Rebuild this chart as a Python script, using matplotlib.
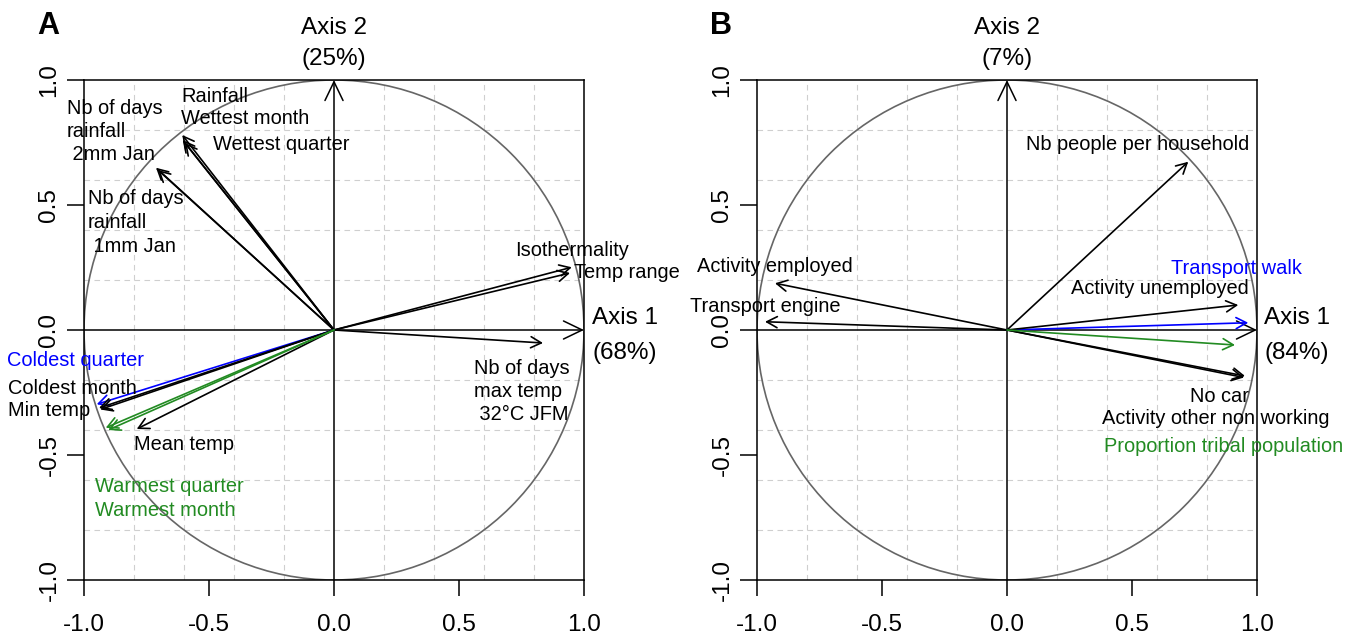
import numpy as np
import matplotlib.pyplot as plt
from matplotlib.patches import Circle

plt.rcParams['font.family'] = ['Liberation Sans', 'DejaVu Sans']
plt.rcParams['axes.unicode_minus'] = False

# panel A: climate variables (correlations with axis 1 / axis 2)
labels_a = ['Rainfall', 'Wettest month', 'Wettest quarter',
            'Nb of days\nrainfall\n 2mm Jan', 'Nb of days\nrainfall\n 1mm Jan',
            'Isothermality', 'Temp range', 'Nb of days\nmax temp\n 32°C JFM',
            'Coldest quarter', 'Coldest month', 'Min temp', 'Mean temp',
            'Warmest quarter', 'Warmest month']
axis1_a = [-0.607, -0.605, -0.596, -0.712, -0.704, 0.951, 0.944, 0.836,
           -0.949, -0.940, -0.935, -0.789, -0.913, -0.903]
axis2_a = [0.780, 0.760, 0.748, 0.649, 0.640, 0.251, 0.228, -0.052,
           -0.297, -0.312, -0.318, -0.396, -0.391, -0.400]
group_a = ['k', 'k', 'k', 'k', 'k', 'k', 'k', 'k', 'b', 'k', 'k', 'k', 'g', 'g']
pct_a = (68, 25)

# panel B: socio-economic variables
labels_b = ['Nb people per household', 'Activity employed', 'Transport engine',
            'Transport walk', 'Activity unemployed', 'No car',
            'Activity other non working', 'Proportion tribal population']
axis1_b = [0.725, -0.928, -0.968, 0.965, 0.925, 0.952, 0.948, 0.912]
axis2_b = [0.673, 0.187, 0.033, 0.029, 0.100, -0.184, -0.190, -0.060]
group_b = ['k', 'k', 'k', 'b', 'k', 'k', 'k', 'g']
pct_b = (84, 7)

# where the labels sit (data coords, left edge / first line centre)
pos_a = [(-0.612, 0.94), (-0.612, 0.852), (-0.484, 0.748),
         (-1.068, 0.896), (-0.984, 0.532),
         (0.724, 0.328), (0.96, 0.24), (0.56, -0.144),
         (-1.308, -0.112), (-1.304, -0.228), (-1.304, -0.316), (-0.80, -0.452),
         (-0.956, -0.616), (-0.956, -0.716)]
pos_b = [(0.076, 0.748), (-1.24, 0.26), (-1.27, 0.104),
         (0.656, 0.252), (0.256, 0.172), (0.734, -0.256),
         (0.38, -0.348), (0.388, -0.456)]

colmap = {'k': 'black', 'b': '#0000FF', 'g': '#228B22'}


def corr_circle(ax, x, y, labels, groups, pos, pct, letter, ax1_x):
    ax.set_xlim(-1, 1)
    ax.set_ylim(-1, 1)
    for v in [-0.8, -0.6, -0.4, -0.2, 0.2, 0.4, 0.6, 0.8]:
        ax.axvline(v, color='#cfcfcf', lw=0.8, ls=(0, (5, 4)), zorder=0)
        ax.axhline(v, color='#cfcfcf', lw=0.8, ls=(0, (5, 4)), zorder=0)
    ax.add_patch(Circle((0, 0), 1, fill=False, ec='#666666', lw=1.2, zorder=1))

    # main axes with open arrow heads
    ax.annotate('', xy=(1, 0), xytext=(-1, 0),
                arrowprops=dict(arrowstyle='->,head_length=1.35,head_width=0.65',
                                color='black', lw=1.1, shrinkA=0, shrinkB=0,
                                mutation_scale=10))
    ax.annotate('', xy=(0, 1), xytext=(0, -1),
                arrowprops=dict(arrowstyle='->,head_length=1.35,head_width=0.65',
                                color='black', lw=1.1, shrinkA=0, shrinkB=0,
                                mutation_scale=10))

    for xi, yi, g in zip(x, y, groups):
        ax.annotate('', xy=(xi, yi), xytext=(0, 0),
                    arrowprops=dict(arrowstyle='->,head_length=0.75,head_width=0.4',
                                    color=colmap[g], lw=1.2, shrinkA=0, shrinkB=0,
                                    mutation_scale=10))

    dy = 0.094
    for lab, (px, py), g in zip(labels, pos, groups):
        for i, line in enumerate(lab.split('\n')):
            ax.text(px, py - i * dy, line, color=colmap[g], fontsize=14.4,
                    ha='left', va='center_baseline', clip_on=False)

    ax.text(0, 1.22, 'Axis 2', fontsize=17.5, ha='center', va='center_baseline',
            clip_on=False)
    ax.text(0, 1.092, '(%d%%)' % pct[1], fontsize=17.5, ha='center',
            va='center_baseline', clip_on=False)
    ax.text(ax1_x, 0.056, 'Axis 1', fontsize=17.5, ha='left',
            va='center_baseline', clip_on=False)
    ax.text(ax1_x, -0.08, '(%d%%)' % pct[0], fontsize=17.5, ha='left',
            va='center_baseline', clip_on=False)
    ax.text(-1.186, 1.232, letter, fontsize=22, fontweight='bold', ha='left',
            va='center_baseline', clip_on=False)

    ticks = [-1, -0.5, 0, 0.5, 1]
    ax.set_xticks(ticks)
    ax.set_yticks(ticks)
    ax.set_xticklabels(['%.1f' % t for t in ticks])
    ax.set_yticklabels(['%.1f' % t for t in ticks], rotation=90, va='center')
    ax.tick_params(axis='x', length=11.5, width=1.1, pad=13, labelsize=17.5)
    ax.tick_params(axis='y', length=12, width=1.1, pad=5, labelsize=17.5)
    for s in ax.spines.values():
        s.set_linewidth(1.1)


fig = plt.figure(figsize=(13.49, 6.36), dpi=100)
axA = fig.add_axes([84 / 1349, 56 / 636, 500 / 1349, 500 / 636])
axB = fig.add_axes([757 / 1349, 56 / 636, 500 / 1349, 500 / 636])

corr_circle(axA, axis1_a, axis2_a, labels_a, group_a, pos_a, pct_a, 'A', 1.032)
corr_circle(axB, axis1_b, axis2_b, labels_b, group_b, pos_b, pct_b, 'B', 1.028)

fig.savefig('out.png', dpi=100)
